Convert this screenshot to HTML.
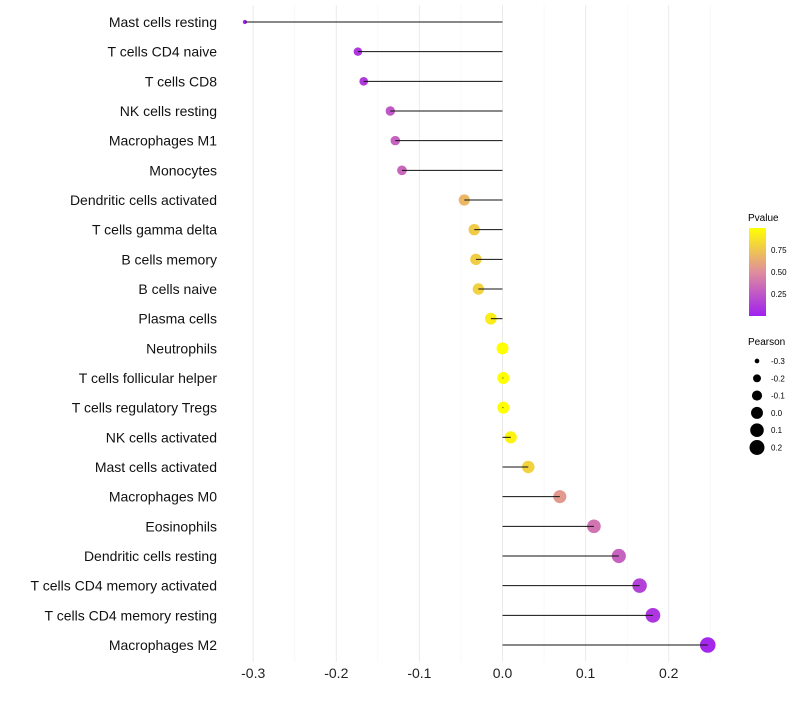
<!DOCTYPE html>
<html><head><meta charset="utf-8"><style>
body{margin:0;background:#fff;font-family:"Liberation Sans",sans-serif}
svg text{font-family:"Liberation Sans",sans-serif}
</style></head><body>
<svg id="chart" width="800" height="700" xmlns="http://www.w3.org/2000/svg">
<defs><linearGradient id="pg" x1="0" y1="1" x2="0" y2="0">
<stop offset="0" stop-color="#A020F0"/><stop offset="0.5" stop-color="#DF8E9E"/><stop offset="1" stop-color="#FFFF00"/></linearGradient></defs>
<g id="grid"></g>
<g id="points"></g>
<g id="stems"></g>
<g id="ylabels"></g>
<g id="xlabels"></g>
<g>
<text x="748" y="221" font-size="10">Pvalue</text>
<rect x="749" y="228" width="17" height="88" fill="url(#pg)"/>
<text x="771" y="253" font-size="8">0.75</text>
<text x="771" y="275" font-size="8">0.50</text>
<text x="771" y="297" font-size="8">0.25</text>
</g>
<g id="sizeleg">
<text x="748" y="345" font-size="10">Pearson</text>
</g>
</svg>
<script>
const categories=["Mast cells resting","T cells CD4 naive","T cells CD8","NK cells resting","Macrophages M1","Monocytes","Dendritic cells activated","T cells gamma delta","B cells memory","B cells naive","Plasma cells","Neutrophils","T cells follicular helper","T cells regulatory  Tregs ","NK cells activated","Mast cells activated","Macrophages M0","Eosinophils","Dendritic cells resting","T cells CD4 memory activated","T cells CD4 memory resting","Macrophages M2"];
const pearson=[-0.31,-0.174,-0.167,-0.135,-0.129,-0.121,-0.046,-0.034,-0.032,-0.029,-0.014,0.0,0.001,0.001,0.010,0.031,0.069,0.110,0.140,0.165,0.181,0.247];
const pvalue=[0.03,0.1,0.12,0.25,0.3,0.32,0.68,0.77,0.78,0.8,0.92,1,1,1,0.95,0.8,0.55,0.38,0.3,0.15,0.1,0.03];
const xTicks=[-0.3,-0.2,-0.1,0.0,0.1,0.2];
const xTickLabels=["-0.3","-0.2","-0.1","0.0","0.1","0.2"];
const sizeLegendVals=[-0.3,-0.2,-0.1,0.0,0.1,0.2];
const NS="http://www.w3.org/2000/svg";
function x(v){return 502.5+v*831;}
function y(i){return 22+i*(623/21);}
const pmin=Math.min(...pearson),pmax=Math.max(...pearson);
function r(v){const t=(v-pmin)/(pmax-pmin);return Math.sqrt(2.1*2.1+t*(7.8*7.8-2.1*2.1));}
function lerp(a,b,t){return a.map((c,i)=>Math.round(c+(b[i]-c)*t));}
function col(p){const A=[160,32,240],M=[223,142,158],B=[255,255,0];const c=p<0.5?lerp(A,M,p/0.5):lerp(M,B,(p-0.5)/0.5);return `rgb(${c})`;}
function mk(tag,attrs,parent){const e=document.createElementNS(NS,tag);for(const k in attrs)e.setAttribute(k,attrs[k]);parent.appendChild(e);return e;}
const grid=document.getElementById('grid');
for(let i=0;i<xTicks.length;i++){
 const gl=mk('line',{x1:x(xTicks[i]),x2:x(xTicks[i]),y1:5,y2:662,stroke:'#ebebeb','stroke-width':1},grid);
 
 
 const mv=xTicks[i]+0.05;
 const ml=mk('line',{x1:x(mv),x2:x(mv),y1:5,y2:662,stroke:'#f4f4f4','stroke-width':0.6},grid);
 
 
 const t=mk('text',{x:x(xTicks[i]),y:678,'font-size':14,'text-anchor':'middle',fill:'#222'},document.getElementById('xlabels'));
 t.textContent=xTickLabels[i];
 
 
}
const points=document.getElementById('points');
const stems=document.getElementById('stems');
categories.forEach((c,i)=>{
 const pt=mk('circle',{cx:x(pearson[i]),cy:y(i),r:r(pearson[i]),fill:col(pvalue[i])},points);
 
 
 const seg=mk('line',{x1:x(0),x2:x(pearson[i]),y1:y(i),y2:y(i),stroke:'#111','stroke-width':1},stems);
 
 
 const t=mk('text',{x:217,y:y(i)+5,'font-size':14,'text-anchor':'end',fill:'#111'},document.getElementById('ylabels'));
 t.textContent=c;
 
 
});
const sl=document.getElementById('sizeleg');
sizeLegendVals.forEach((v,i)=>{
 const cy=361+i*17.3;
 const c=mk('circle',{cx:757,cy:cy,r:r(v),fill:'#000'},sl);
 
 
 const t=mk('text',{x:771,y:cy+3,'font-size':8},sl);
 t.textContent=v.toFixed(1);
 
 
});
</script>
</body></html>
